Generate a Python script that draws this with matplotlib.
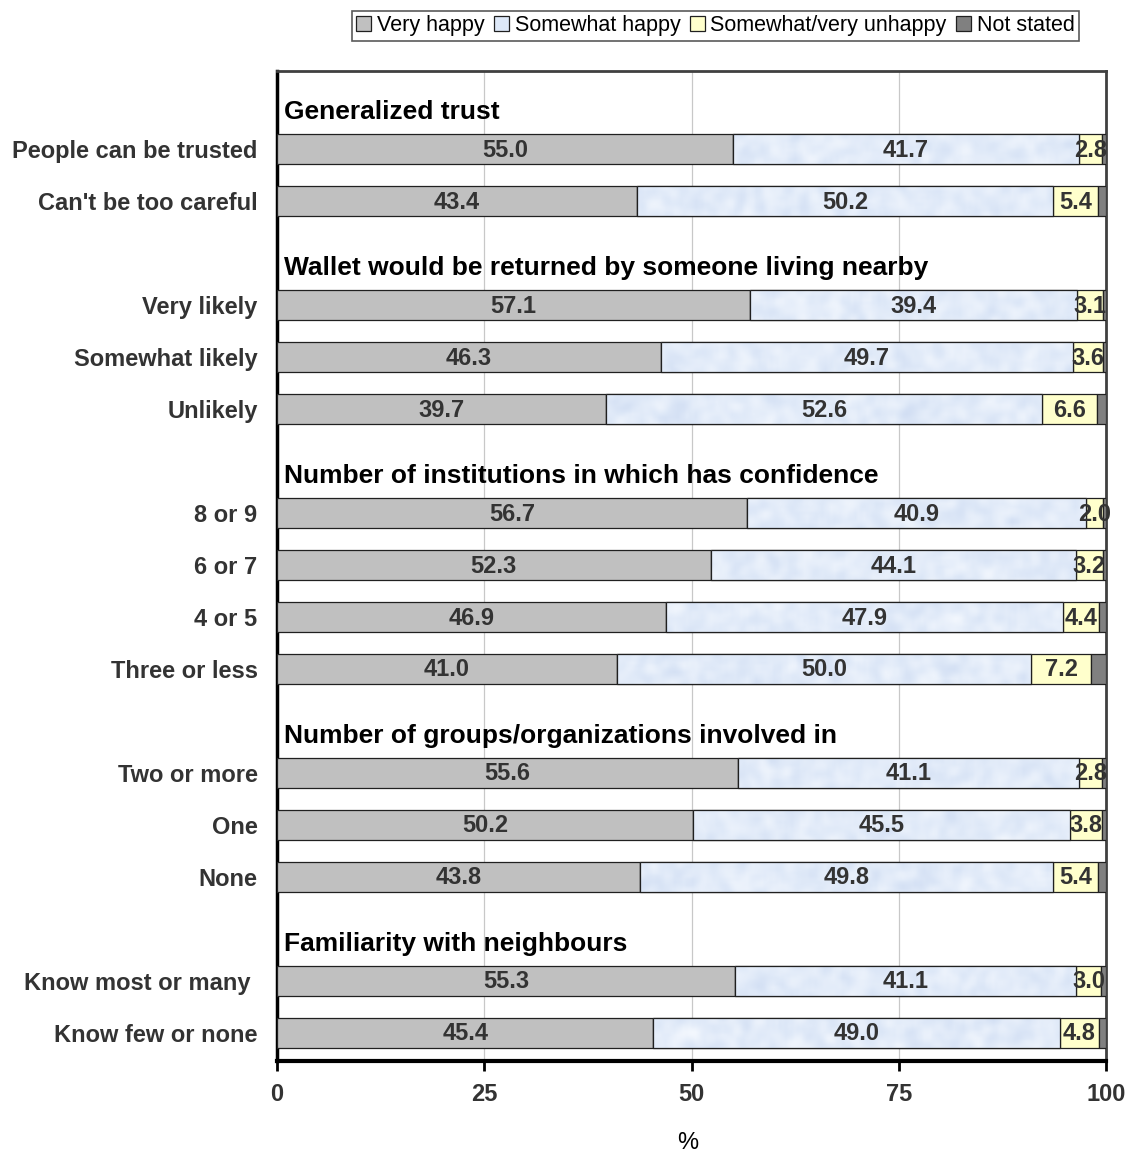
import matplotlib
matplotlib.use("Agg")
import matplotlib.pyplot as plt
import numpy as np
from matplotlib.colors import LinearSegmentedColormap

plt.rcParams['font.family'] = ['Liberation Sans', 'DejaVu Sans']

# Rows from top to bottom, grouped into sections with a heading each
headings = ["Generalized trust",
            "Wallet would be returned by someone living nearby",
            "Number of institutions in which has confidence",
            "Number of groups/organizations involved in",
            "Familiarity with neighbours"]
categories = ["People can be trusted", "Can't be too careful",
              "Very likely", "Somewhat likely", "Unlikely",
              "8 or 9", "6 or 7", "4 or 5", "Three or less",
              "Two or more", "One", "None",
              "Know most or many ", "Know few or none"]
section_sizes = [2, 3, 4, 3, 2]

very_happy = [55.0, 43.4, 57.1, 46.3, 39.7, 56.7, 52.3, 46.9, 41.0, 55.6, 50.2, 43.8, 55.3, 45.4]
somewhat_happy = [41.7, 50.2, 39.4, 49.7, 52.6, 40.9, 44.1, 47.9, 50.0, 41.1, 45.5, 49.8, 41.1, 49.0]
unhappy = [2.8, 5.4, 3.1, 3.6, 6.6, 2.0, 3.2, 4.4, 7.2, 2.8, 3.8, 5.4, 3.0, 4.8]
not_stated = [0.5, 1.0, 0.4, 0.4, 1.1, 0.4, 0.4, 0.8, 1.8, 0.5, 0.5, 1.0, 0.6, 0.8]

series = [("Very happy", very_happy, "#c0c0c0"),
          ("Somewhat happy", somewhat_happy, "#dde8f8"),
          ("Somewhat/very unhappy", unhappy, "#ffffcc"),
          ("Not stated", not_stated, "#808080")]
x_ticks = [0, 25, 50, 75, 100]

# slot positions: each section gets one heading slot followed by its rows
heading_pos = []
bar_pos = []
slot = 0
for n in section_sizes:
    heading_pos.append(slot)
    bar_pos.extend(range(slot + 1, slot + 1 + n))
    slot += n + 1
bar_pos = np.array(bar_pos)

# mottled fill used inside the "Somewhat happy" bars (roughly square cells)
rng = np.random.default_rng(7)
noise = rng.random((330, 276))
k = np.ones(3) / 3
for _ in range(2):
    noise = np.apply_along_axis(lambda r: np.convolve(r, k, mode="same"), 1, noise)
    noise = np.apply_along_axis(lambda c: np.convolve(c, k, mode="same"), 0, noise)
noise = (noise - noise.min()) / (noise.max() - noise.min())
mottle = LinearSegmentedColormap.from_list("mottle", ["#cbd9f1", "#dfe9f8", "#f4f8fe"])

fig = plt.figure(figsize=(11.33, 11.53), dpi=100)
ax = fig.add_axes([0.2445, 0.0798, 0.9762 - 0.2445, 0.9384 - 0.0798])

ylim = (18.54, -0.5)
left = np.zeros(len(categories))
for name, vals, color in series:
    vals = np.array(vals)
    bars = ax.barh(bar_pos, vals, left=left, height=0.58, color=color,
                   edgecolor="#202020", linewidth=0.9, label=name, zorder=3)
    if name == "Somewhat happy":
        for b in bars:
            im = ax.imshow(noise, cmap=mottle, aspect="auto", interpolation="bilinear",
                           extent=(0, 100, ylim[0], ylim[1]), zorder=3.5)
            im.set_clip_path(b)
        # outline again over the texture
        ax.barh(bar_pos, vals, left=left, height=0.58, fill=False,
                edgecolor="#202020", linewidth=0.9, zorder=3.8)
    if name != "Not stated":
        for y, l, v in zip(bar_pos, left, vals):
            ax.text(l + v / 2, y + 0.02, f"{v:.1f}", ha="center", va="center",
                    fontsize=17, fontweight="bold", color="#333333", zorder=5)
    left += vals

for y, h in zip(heading_pos, headings):
    ax.text(0.85, y + 0.29, h, ha="left", va="center", fontsize=19,
            fontweight="bold", color="black")

ax.set_xlim(0, 100)
ax.set_ylim(*ylim)
ax.set_yticks(bar_pos)
ax.set_yticklabels(categories, fontsize=17, fontweight="bold", color="#333333")
ax.tick_params(axis="y", length=0, pad=14)
ax.set_xticks(x_ticks)
ax.set_xticklabels([str(t) for t in x_ticks], fontsize=17, fontweight="bold", color="#333333")
ax.tick_params(axis="x", length=7, width=2, pad=9, direction="out")
ax.xaxis.grid(True, color="#c8c8c8", linewidth=0.9, zorder=0)
ax.set_axisbelow(True)
fig.text(688 / 1133, 1 - 1143 / 1153, "%", ha="center", va="center", fontsize=17)

ax.spines["left"].set_linewidth(2.5)
ax.spines["left"].set_color("black")
ax.spines["bottom"].set_linewidth(3)
ax.spines["bottom"].set_color("black")
for s in ("top", "right"):
    ax.spines[s].set_linewidth(2)
    ax.spines[s].set_color("#404040")

leg = fig.legend(loc="upper right", bbox_to_anchor=(1079 / 1133, 1 - 11 / 1153), ncol=4,
                 frameon=True, fancybox=False, edgecolor="#303030",
                 handlelength=0.7, handleheight=0.7, handletextpad=0.25,
                 columnspacing=0.45, borderpad=0.2, borderaxespad=0,
                 prop={'size': 15.5})
leg.get_frame().set_linewidth(1.2)

fig.savefig("out.png", dpi=100)
